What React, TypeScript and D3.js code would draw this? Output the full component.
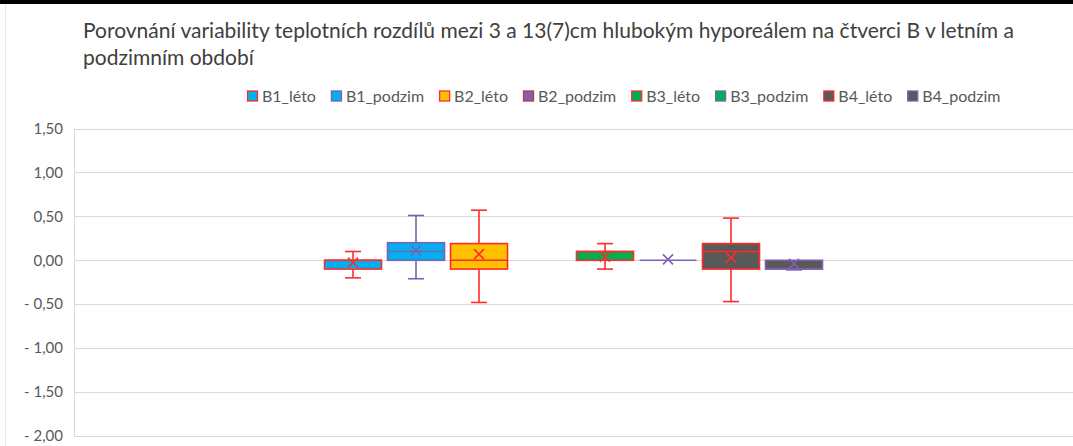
import React, { useEffect, useRef } from "react";
import * as d3 from "d3";

const seriesNames = ["B1_léto", "B1_podzim", "B2_léto", "B2_podzim", "B3_léto", "B3_podzim", "B4_léto", "B4_podzim"];
const fills = ["#00B0F0", "#00B0F0", "#FFC000", "#8064A2", "#00B050", "#00B050", "#595959", "#595959"];
const strokes = ["#FF2B2B", "#7F5FB5", "#FF2B2B", "#C0334D", "#FF2B2B", "#7F5FB5", "#FF2B2B", "#7F5FB5"];
const mins = [-0.2, -0.21, -0.48, null, -0.1, 0, -0.47, -0.1];
const q1s = [-0.1, 0.0, -0.1, null, 0.0, 0, -0.1, -0.1];
const medians = [0.0, 0.1, 0.0, null, 0.1, 0, 0.1, -0.1];
const q3s = [0.0, 0.2, 0.19, null, 0.1, 0, 0.19, 0.0];
const maxs = [0.1, 0.51, 0.57, null, 0.19, 0, 0.48, 0.0];
const means = [-0.025, 0.11, 0.07, null, 0.04, 0.01, 0.03, -0.04];
const yTicks = [1.5, 1.0, 0.5, 0.0, -0.5, -1.0, -1.5, -2.0];
const titleLines = [
  "Porovnání variability teplotních rozdílů mezi 3 a 13(7)cm hlubokým hyporeálem na čtverci B v letním a",
  "podzimním období",
];

const W = 1073;
const H = 446;
const FONT = "Lato, 'Open Sans', sans-serif";

function fmt(v: number) {
  const s = Math.abs(v).toFixed(2).replace(".", ",");
  return v < 0 ? "- " + s : s;
}

export default function App() {
  const ref = useRef<SVGSVGElement>(null);
  useEffect(() => {
    const svg = d3.select(ref.current);
    svg.selectAll("*").remove();

    const plotLeft = 74;
    const plotRight = W;
    const y = d3.scaleLinear().domain([-2, 1.5]).range([436, 128.5]);
    const center = (plotLeft + plotRight) / 2;
    const step = 63;
    const x = d3
      .scaleBand<string>()
      .domain(seriesNames)
      .range([center - step * 4, center + step * 4])
      .paddingInner(0.095)
      .paddingOuter(0.0475);

    svg.append("rect").attr("x", 0).attr("y", 0).attr("width", W).attr("height", H).attr("fill", "#fff");
    svg.append("rect").attr("x", 0).attr("y", 0).attr("width", W).attr("height", 4).attr("fill", "#000");
    svg.append("line").attr("x1", 5.5).attr("x2", 5.5).attr("y1", 4).attr("y2", H).attr("stroke", "#E6E6E6").attr("stroke-width", 1);

    // title
    const title = svg.append("g");
    titleLines.forEach((t, i) => {
      title
        .append("text")
        .attr("x", 83)
        .attr("y", 38 + i * 27)
        .attr("font-family", FONT)
        .attr("font-size", 21)
        .attr("fill", "#404040")
        .text(t);
    });

    // grid
    const grid = svg.append("g");
    yTicks.forEach((t) => {
      grid
        .append("line")
        .attr("x1", plotLeft)
        .attr("x2", plotRight)
        .attr("y1", Math.round(y(t)) + 0.5)
        .attr("y2", Math.round(y(t)) + 0.5)
        .attr("stroke", "#D9D9D9")
        .attr("stroke-width", 1);
      svg
        .append("text")
        .attr("x", 63)
        .attr("y", y(t))
        .attr("dy", "0.35em")
        .attr("text-anchor", "end")
        .attr("font-family", FONT)
        .attr("font-size", 15)
        .attr("fill", "#595959")
        .text(fmt(t));
    });
    grid
      .append("line")
      .attr("x1", plotLeft + 0.5)
      .attr("x2", plotLeft + 0.5)
      .attr("y1", y(1.5))
      .attr("y2", y(-2))
      .attr("stroke", "#D9D9D9");

    // boxes
    const bw = x.bandwidth();
    seriesNames.forEach((name, i) => {
      if (q1s[i] === null) return;
      const g = svg.append("g");
      const x0 = x(name)!;
      const cx = x0 + bw / 2;
      const col = strokes[i];
      const sw = 1.6;
      const cap = 8;
      // whiskers
      g.append("line").attr("x1", cx).attr("x2", cx).attr("y1", y(maxs[i]!)).attr("y2", y(q3s[i]!)).attr("stroke", col).attr("stroke-width", sw);
      g.append("line").attr("x1", cx).attr("x2", cx).attr("y1", y(q1s[i]!)).attr("y2", y(mins[i]!)).attr("stroke", col).attr("stroke-width", sw);
      if (maxs[i] !== q3s[i]) {
        g.append("line").attr("x1", cx - cap).attr("x2", cx + cap).attr("y1", y(maxs[i]!)).attr("y2", y(maxs[i]!)).attr("stroke", col).attr("stroke-width", sw);
      }
      if (mins[i] !== q1s[i] || i === 7) {
        g.append("line").attr("x1", cx - cap).attr("x2", cx + cap).attr("y1", y(mins[i]!) + (i === 7 ? 0.8 : 0)).attr("y2", y(mins[i]!) + (i === 7 ? 0.8 : 0)).attr("stroke", col).attr("stroke-width", sw);
      }
      // box
      const top = y(q3s[i]!);
      const bot = y(q1s[i]!);
      if (bot - top > 0.5) {
        g.append("rect").attr("x", x0).attr("y", top).attr("width", bw).attr("height", bot - top).attr("fill", fills[i]).attr("stroke", col).attr("stroke-width", sw);
      }
      g.append("line").attr("x1", x0).attr("x2", x0 + bw).attr("y1", y(medians[i]!)).attr("y2", y(medians[i]!)).attr("stroke", col).attr("stroke-width", sw);
      // mean X
      const my = y(means[i]!);
      const s = 5;
      g.append("path")
        .attr("d", `M${cx - s},${my - s}L${cx + s},${my + s}M${cx - s},${my + s}L${cx + s},${my - s}`)
        .attr("stroke", col)
        .attr("stroke-width", sw)
        .attr("fill", "none");
    });

    // legend
    const leg = svg.append("g");
    let lx = 247;
    const ly = 96;
    seriesNames.forEach((name, i) => {
      leg.append("rect").attr("x", lx + 0.5).attr("y", ly - 5).attr("width", 10).attr("height", 10).attr("fill", fills[i]).attr("stroke", strokes[i]).attr("stroke-width", 1.3);
      const t = leg
        .append("text")
        .attr("x", lx + 15)
        .attr("y", ly)
        .attr("dy", "0.35em")
        .attr("font-family", FONT)
        .attr("font-size", 16)
        .attr("fill", "#595959")
        .text(name);
      const w = (t.node() as SVGTextElement).getComputedTextLength();
      lx += 15 + w + 15;
    });
  }, []);

  return (
    <svg ref={ref} width={W} height={H} style={{ position: "absolute", left: 0, top: 0, display: "block" }} />
  );
}
